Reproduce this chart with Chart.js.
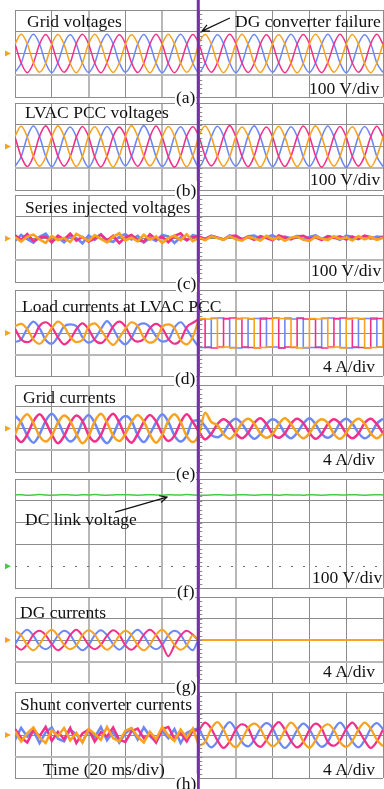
<!DOCTYPE html>
<html>
<head>
<meta charset="utf-8">
<title>DG converter failure waveforms</title>
<script src="https://cdn.jsdelivr.net/npm/chart.js@4.4.1/dist/chart.umd.min.js"></script>
<style>
    html, body { margin: 0; padding: 0; background: #fff; }
    #scope { position: relative; width: 384px; height: 789px; overflow: hidden; background: #fff; }
    #scope canvas { position: absolute; left: 0; }
    .label { position: absolute; font-family: "Liberation Serif", "Times New Roman", serif; font-size: 17.5px; line-height: 18px; color: #111; white-space: nowrap; }
    .label.tag { background: #fff; padding: 0 1px; margin-left: -1px; }
</style>
</head>
<body>
<div id="scope"></div>
<script>
/* ================= DATA (6 samples per 20 ms division) ================= */

/* (a) grid voltages, V */
const gridVoltOrange = [
    43, 88, 45, -42, -86, -45,
    44, 87, 42, -46, -88, -43,
    45, 89, 44, -43, -87, -44,
    42, 86, 45, -45, -89, -42,
    44, 88, 43, -44, -86, -46,
    46, 87, 44, -43, -88, -44,
    43, 89, 42, -45, -87, -43,
    45, 86, 44, -44, -89, -45,
    44, 88, 46, -42, -86, -44,
    43, 87, 43, -46, -88, -43,
    44];
const gridVoltBlue = [
    -86, -45, 43, 88, 44, -43,
    -88, -42, 45, 86, 43, -45,
    -87, -44, 44, 89, 45, -42,
    -86, -46, 43, 87, 42, -44,
    -89, -43, 45, 88, 44, -45,
    -87, -44, 42, 86, 46, -43,
    -88, -45, 44, 87, 43, -44,
    -86, -42, 46, 89, 44, -46,
    -87, -44, 43, 88, 42, -43,
    -89, -43, 44, 86, 45, -44,
    -87];
const gridVoltPink = [
    45, -43, -88, -44, 43, 87,
    42, -45, -86, -43, 46, 88,
    44, -44, -89, -42, 43, 86,
    45, -43, -87, -45, 44, 89,
    43, -46, -88, -44, 42, 87,
    44, -42, -86, -43, 45, 88,
    46, -44, -87, -45, 43, 86,
    42, -43, -89, -44, 44, 87,
    45, -45, -88, -42, 43, 89,
    44, -44, -86, -43, 45, 88,
    43];

/* (b) LVAC PCC voltages, V */
const pccVoltOrange = [
    47, 93, 44, -46, -90, -48,
    44, 95, 47, -43, -92, -45,
    48, 91, 43, -47, -94, -44,
    45, 96, 46, -44, -89, -47,
    43, 92, 48, -46, -93, -43,
    49, 94, 45, -45, -91, -46,
    44, 90, 47, -48, -95, -44,
    46, 93, 44, -43, -92, -47,
    45, 95, 46, -46, -90, -45,
    47, 91, 43, -44, -94, -46,
    45];
const pccVoltBlue = [
    -91, -47, 44, 94, 46, -45,
    -93, -44, 48, 90, 44, -47,
    -95, -46, 45, 92, 47, -43,
    -89, -45, 43, 96, 45, -46,
    -92, -48, 46, 91, 43, -44,
    -94, -43, 44, 93, 48, -47,
    -90, -46, 47, 95, 44, -45,
    -93, -44, 45, 91, 46, -48,
    -91, -47, 43, 94, 45, -44,
    -96, -45, 46, 92, 47, -46,
    -92];
const pccVoltPink = [
    44, -46, -92, -45, 47, 95,
    46, -44, -90, -47, 43, 92,
    45, -48, -94, -44, 46, 89,
    47, -45, -91, -46, 44, 94,
    43, -47, -95, -43, 48, 91,
    45, -44, -89, -46, 45, 96,
    46, -45, -93, -44, 47, 90,
    44, -47, -92, -45, 43, 94,
    48, -43, -95, -47, 46, 92,
    44, -46, -90, -44, 45, 93,
    46];

/* (c) series injected voltages, V */
const seriesVoltOrange = [
    6, -14, 9, 18, -4, -20,
    12, -7, 3, -16, 21, 5,
    -11, 15, -2, -18, 8, 24,
    -9, 4, -13, 17, -6, 10,
    -21, 2, 14, -8, 19, -12,
    4, -8, 10, 2, -6, 11,
    -3, -10, 7, 1, -9, 12,
    -4, 6, -11, 3, 9, -5,
    -12, 8, 0, -7, 10, -2,
    5, -9, 11, -4, 7, -6,
    3];
const seriesVoltBlue = [
    -10, 16, -3, -19, 8, 22,
    -13, 5, -17, 11, 2, -22,
    14, -6, 19, -9, -15, 7,
    20, -4, 12, -18, 3, -11,
    16, 9, -20, 6, -8, 15,
    8, -3, 12, 5, -5, 14,
    2, -6, 10, 13, -1, 6,
    15, -4, 9, 1, 12, -5,
    7, 14, -2, 10, 4, -6,
    13, 8, -3, 11, 0, 9,
    5];
const seriesVoltPink = [
    15, -6, 20, -12, 3, 9,
    -18, 13, -4, 22, -10, 7,
    -15, 1, 18, -9, 12, -21,
    5, 16, -7, -14, 19, -3,
    8, -17, 11, 24, -8, 6,
    9, -2, 12, 4, -5, 10,
    13, -3, 7, -6, 11, 2,
    -8, 14, 5, -4, 9, 12,
    -1, 6, -7, 11, 3, 10,
    -5, 8, -2, 13, 6, -4,
    9];

/* (d) load currents at LVAC PCC, A */
const loadCurOrange = [
    1.3, 1.7, 0.7, -1.2, -2.0, -0.8,
    0.9, 2.1, 1.2, -0.7, -1.7, -1.3,
    1.2, 1.8, 0.6, -1.1, -2.2, -0.9,
    0.8, 2.0, 1.3, -0.9, -1.8, -1.2,
    1.1, 1.6, 0.9, -1.3, -2.1, -0.7,
    2.7, 2.6, 2.8, -2.7, -2.6, -2.8,
    2.6, 2.8, 2.7, -2.8, -2.7, -2.6,
    2.8, 2.7, 2.6, -2.6, -2.8, -2.7,
    2.7, 2.6, 2.8, -2.7, -2.6, -2.8,
    2.6, 2.8, 2.7, -2.8, -2.7, -2.6,
    2.7];
const loadCurBlue = [
    -1.7, -1.2, 0.8, 2.1, 0.9, -1.3,
    -2.0, -0.7, 1.2, 1.6, 1.3, -0.8,
    -1.8, -1.1, 0.7, 2.2, 0.8, -1.2,
    -2.1, -0.9, 1.3, 1.8, 1.1, -0.6,
    -1.6, -1.3, 1.0, 2.0, 0.7, -1.1,
    -2.7, -2.6, 2.7, 2.8, 2.6, -2.7,
    -2.8, -2.7, 2.6, 2.7, 2.8, -2.6,
    -2.6, -2.8, 2.8, 2.6, 2.7, -2.8,
    -2.7, -2.6, 2.7, 2.8, 2.6, -2.7,
    -2.8, -2.7, 2.6, 2.7, 2.8, -2.6,
    -2.7];
const loadCurPink = [
    0.8, -1.2, -1.7, -0.9, 1.3, 2.0,
    1.1, -0.8, -2.1, -1.2, 0.7, 1.8,
    0.7, -1.3, -1.9, -0.8, 1.2, 2.1,
    1.2, -0.9, -1.6, -1.1, 0.9, 1.7,
    0.9, -1.1, -2.0, -1.3, 1.1, 1.9,
    2.6, -2.7, -2.8, -2.6, 2.7, 2.8,
    2.7, -2.6, -2.7, -2.8, 2.6, 2.7,
    2.8, -2.8, -2.6, -2.7, 2.8, 2.6,
    2.6, -2.7, -2.8, -2.6, 2.7, 2.8,
    2.7, -2.6, -2.7, -2.8, 2.6, 2.7,
    2.8];

/* (e) grid currents, A */
const gridCurOrange = [
    -1.1, 1.4, 2.6, 1.0, -1.4, -2.4,
    -1.3, 1.1, 2.4, 1.4, -1.0, -2.7,
    -1.4, 1.3, 2.7, 1.1, -1.3, -2.3,
    -1.0, 1.2, 2.5, 1.3, -1.1, -2.6,
    -1.2, 1.4, 2.6, 1.2, -1.4, -2.5,
    -1.1, 2.9, 1.2, 0.6, -1.0, -1.9,
    -0.8, 1.0, 1.8, 0.9, -0.9, -1.7,
    -1.0, 0.8, 1.9, 0.8, -0.8, -1.8,
    -0.9, 0.9, 1.7, 1.0, -1.0, -1.9,
    -0.8, 1.0, 1.8, 0.9, -0.9, -1.8,
    -0.9];
const gridCurBlue = [
    2.4, 1.1, -1.3, -2.6, -1.1, 1.4,
    2.7, 1.3, -1.1, -2.4, -1.4, 1.2,
    2.5, 1.0, -1.4, -2.7, -1.2, 1.3,
    2.3, 1.4, -1.2, -2.5, -1.0, 1.1,
    2.6, 1.2, -1.3, -2.4, -1.3, 1.4,
    1.5, 0.4, -1.2, -1.6, -0.8, 1.0,
    1.8, 0.9, -0.8, -1.9, -1.0, 0.8,
    1.7, 1.0, -0.9, -1.8, -0.8, 0.9,
    1.9, 0.8, -1.0, -1.7, -0.9, 1.0,
    1.8, 0.9, -0.8, -1.8, -1.0, 0.9,
    1.8];
const gridCurPink = [
    -1.3, -2.5, -1.1, 1.3, 2.6, 1.2,
    -1.1, -2.7, -1.4, 1.0, 2.4, 1.4,
    -1.2, -2.4, -1.2, 1.4, 2.7, 1.1,
    -1.4, -2.6, -1.0, 1.2, 2.5, 1.3,
    -1.0, -2.3, -1.3, 1.1, 2.6, 1.2,
    -0.6, -2.0, -1.0, 0.8, 1.7, 0.9,
    -0.9, -1.8, -0.8, 1.0, 1.9, 0.8,
    -1.0, -1.7, -0.9, 0.9, 1.8, 1.0,
    -0.8, -1.9, -1.0, 0.8, 1.7, 0.9,
    -0.9, -1.8, -0.9, 1.0, 1.8, 0.8,
    -0.9];

/* (f) DC link voltage, V */
const dcLinkVolt = [
    327, 328, 326, 327, 329, 327,
    326, 327, 328, 327, 326, 328,
    327, 329, 327, 326, 327, 328,
    328, 327, 326, 327, 328, 327,
    326, 328, 327, 327, 329, 327,
    325, 326, 327, 328, 327, 326,
    327, 328, 327, 326, 327, 328,
    327, 326, 328, 327, 327, 326,
    328, 327, 326, 327, 328, 327,
    327, 328, 327, 326, 327, 328,
    327];

/* (g) DG currents, A */
const dgCurOrange = [
    1.7, 0.9, -1.0, -1.9, -0.8, 1.0,
    1.9, 0.8, -0.9, -1.7, -1.0, 0.9,
    1.8, 1.0, -0.8, -1.8, -0.9, 0.8,
    1.7, 0.9, -1.0, -1.9, -0.9, 1.0,
    1.9, 0.8, -0.9, -1.8, -1.0, 0.9,
    0, 0, 0, 0, 0, 0,
    0, 0, 0, 0, 0, 0,
    0, 0, 0, 0, 0, 0,
    0, 0, 0, 0, 0, 0,
    0, 0, 0, 0, 0, 0,
    0];
const dgCurBlue = [
    -0.8, 1.0, 1.9, 0.8, -1.0, -1.7,
    -0.9, 0.8, 1.7, 1.0, -0.9, -1.9,
    -1.0, 0.9, 1.8, 0.9, -0.8, -1.8,
    -0.8, 1.0, 1.9, 0.8, -1.0, -1.7,
    -0.9, 0.9, 1.7, 1.0, -0.9, -1.9,
    0, 0, 0, 0, 0, 0,
    0, 0, 0, 0, 0, 0,
    0, 0, 0, 0, 0, 0,
    0, 0, 0, 0, 0, 0,
    0, 0, 0, 0, 0, 0,
    0];
const dgCurPink = [
    -1.0, -1.8, -0.8, 1.0, 1.7, 0.9,
    -0.8, -1.9, -1.0, 0.9, 1.9, 0.8,
    -0.9, -1.7, -0.9, 0.8, 1.8, 1.0,
    -1.0, -1.8, -0.8, 1.0, 1.9, 0.9,
    -0.9, -3.0, -1.0, 0.8, 1.7, 1.0,
    0, 0, 0, 0, 0, 0,
    0, 0, 0, 0, 0, 0,
    0, 0, 0, 0, 0, 0,
    0, 0, 0, 0, 0, 0,
    0, 0, 0, 0, 0, 0,
    0];

/* (h) shunt converter currents, A */
const shuntCurOrange = [
    0.7, -1.2, 0.3, 1.4, -0.5, -1.5,
    0.9, -0.2, 1.3, -1.0, 0.4, -1.4,
    1.1, 0.2, -0.9, 1.5, -0.6, -1.2,
    0.8, 1.3, -0.3, -1.4, 0.6, -0.8,
    1.5, -0.1, -1.1, 1.0, -0.5, 1.2,
    -2.0, -1.3, 1.2, 2.4, 1.0, -1.3,
    -2.3, -0.9, 1.3, 2.1, 1.2, -1.0,
    -2.1, -1.2, 0.9, 2.3, 1.1, -1.2,
    -2.4, -1.0, 1.2, 2.0, 0.9, -1.3,
    -2.2, -1.1, 1.0, 2.3, 1.2, -0.9,
    -2.1];
const shuntCurBlue = [
    -0.9, 1.3, -0.3, 0.8, -1.5, 0.5,
    1.4, -0.7, -1.2, 1.0, 0.1, -1.3,
    0.9, -0.4, 1.5, -1.0, 0.6, -1.4,
    0.3, 1.2, -0.8, 1.4, -0.2, -1.3,
    0.7, -0.6, 1.1, -1.5, 0.4, 1.0,
    1.2, -1.0, -2.3, -1.2, 1.1, 2.4,
    1.0, -1.3, -2.1, -0.9, 1.2, 2.2,
    1.3, -1.1, -2.4, -1.2, 0.9, 2.1,
    1.1, -1.0, -2.2, -1.3, 1.0, 2.3,
    0.9, -1.2, -2.3, -1.0, 1.2, 2.2,
    1.1];
const shuntCurPink = [
    1.1, -0.5, -1.4, 0.9, -0.2, 1.5,
    -1.1, 0.6, -0.8, 1.3, -1.5, 0.3,
    1.0, -1.2, 0.5, -0.3, 1.4, -0.9,
    -1.3, 0.7, 1.2, -0.6, 0.2, -1.4,
    1.1, 1.5, -0.7, 0.4, -1.2, 0.8,
    0.9, 2.3, 1.2, -1.0, -2.4, -1.2,
    1.0, 2.0, 1.3, -1.2, -2.2, -0.9,
    1.2, 2.4, 1.0, -1.1, -2.3, -1.3,
    0.9, 2.1, 1.2, -1.3, -2.0, -1.0,
    1.1, 2.3, 0.9, -1.0, -2.4, -1.2,
    1.0];

const samplesPerDiv = 6;     // 20 ms per division, 6 samples each
const failureDiv = 4.98;     // DG converter failure instant, in divisions

/* ================= STYLE / LAYOUT ================= */
const colors = {
    orange: "#f8a21f",
    pink: "#f2308a",
    blue: "#6c88f6",
    green: "#45cc45"
};

const panels = [
    { top: 10, bottom: 97, divs: 4, below: 2, perDiv: 100, width: 1.5, marker: "orange",
      traces: [[gridVoltOrange, "orange"], [gridVoltPink, "pink"], [gridVoltBlue, "blue"]],
      arrow: { from: [5.84, 163], to: [5.08, 103] } },
    { top: 103, bottom: 190, divs: 4, below: 2, perDiv: 100, width: 1.6, marker: "orange",
      traces: [[pccVoltOrange, "orange"], [pccVoltPink, "pink"], [pccVoltBlue, "blue"]] },
    { top: 195, bottom: 282, divs: 4, below: 2, perDiv: 100, width: 2.6, rough: true, marker: "orange",
      traces: [[seriesVoltOrange, "orange"], [seriesVoltPink, "pink"], [seriesVoltBlue, "blue"]] },
    { top: 290, bottom: 376, divs: 4, below: 2, perDiv: 4, width: 2.2, split: 30, postStepped: true, marker: "orange",
      traces: [[loadCurOrange, "orange"], [loadCurPink, "pink"], [loadCurBlue, "blue"]] },
    { top: 385, bottom: 472, divs: 4, below: 2, perDiv: 4, width: 2.5, marker: "orange",
      traces: [[gridCurOrange, "orange"], [gridCurPink, "pink"], [gridCurBlue, "blue"]] },
    { top: 479, bottom: 588, divs: 5, below: 1, perDiv: 100, width: 1.5, marker: "green", dottedZero: true,
      traces: [[dcLinkVolt, "green"]],
      arrow: { from: [2.72, 248], to: [4.13, 317] } },
    { top: 597, bottom: 683, divs: 4, below: 2, perDiv: 4, width: 2.0, marker: "orange",
      traces: [[dgCurOrange, "orange"], [dgCurPink, "pink"], [dgCurBlue, "blue"]] },
    { top: 692, bottom: 778, divs: 4, below: 2, perDiv: 4, width: 2.5, split: 30, preRough: true, marker: "orange",
      traces: [[shuntCurOrange, "orange"], [shuntCurPink, "pink"], [shuntCurBlue, "blue"]] }
];

const labels = [
    { text: "Grid voltages", x: 27, y: 27 },
    { text: "DG converter failure", x: 235, y: 27 },
    { text: "100 V/div", x: 309, y: 94 },
    { text: "(a)", x: 176, y: 103, tag: true },
    { text: "LVAC PCC voltages", x: 25, y: 118 },
    { text: "100 V/div", x: 310, y: 185 },
    { text: "(b)", x: 176, y: 196, tag: true },
    { text: "Series injected voltages", x: 25, y: 213 },
    { text: "100 V/div", x: 311, y: 276 },
    { text: "(c)", x: 177, y: 289, tag: true },
    { text: "Load currents at LVAC PCC", x: 22, y: 312 },
    { text: "4 A/div", x: 323, y: 372 },
    { text: "(d)", x: 175, y: 384, tag: true },
    { text: "Grid currents", x: 23, y: 403 },
    { text: "4 A/div", x: 323, y: 465 },
    { text: "(e)", x: 176, y: 479, tag: true },
    { text: "DC link voltage", x: 25, y: 525 },
    { text: "100 V/div", x: 312, y: 583 },
    { text: "(f)", x: 177, y: 597, tag: true },
    { text: "DG currents", x: 20, y: 618 },
    { text: "4 A/div", x: 323, y: 677 },
    { text: "(g)", x: 176, y: 692, tag: true },
    { text: "Shunt converter currents", x: 20, y: 710 },
    { text: "Time (20 ms/div)", x: 43, y: 775 },
    { text: "4 A/div", x: 323, y: 775 },
    { text: "(h)", x: 176, y: 789, tag: true }
];

/* ================= HELPERS ================= */
function toPoints(values, from, to) {
    const pts = [];
    for (let i = from; i <= to && i < values.length; i++) {
        pts.push({ x: i / samplesPerDiv, y: values[i] });
    }
    return pts;
}

function lineStyle(color, width, mode) {
    const s = { borderColor: colors[color], borderWidth: width, pointRadius: 0, fill: false };
    if (mode === "rough") { s.tension = 0; }
    else if (mode === "stepped") { s.stepped = true; }
    else { s.cubicInterpolationMode = "monotone"; }
    return s;
}

function buildDatasets(p) {
    const sets = [];
    p.traces.forEach(([values, color]) => {
        const last = values.length - 1;
        if (p.split) {
            sets.push({ data: toPoints(values, 0, p.split), ...lineStyle(color, p.width, p.preRough ? "rough" : "smooth") });
            sets.push({ data: toPoints(values, p.split, last), ...lineStyle(color, p.postStepped ? 1.6 : 2.2, p.postStepped ? "stepped" : "smooth") });
        } else {
            sets.push({ data: toPoints(values, 0, last), ...lineStyle(color, p.width, p.rough ? "rough" : "smooth") });
        }
    });
    return sets;
}

/* ---- oscilloscope marks: failure line, ground marker, arrows ---- */
const scopeMarks = {
    id: "scopeMarks",
    afterDatasetsDraw(chart, args, opts) {
        const { ctx, chartArea } = chart;
        const xs = chart.scales.x, ys = chart.scales.y;
        ctx.save();

        if (opts.dottedZero) {
            const zy = Math.round(ys.getPixelForValue(0)) + 0.5;
            ctx.strokeStyle = "#6f6f6f";
            ctx.lineWidth = 1;
            ctx.setLineDash([2, 10]);
            ctx.beginPath();
            ctx.moveTo(chartArea.left, zy);
            ctx.lineTo(chartArea.right, zy);
            ctx.stroke();
            ctx.setLineDash([]);
        }

        // ground level marker left of the screen
        const gy = ys.getPixelForValue(0);
        ctx.fillStyle = colors[opts.marker];
        ctx.beginPath();
        ctx.moveTo(chartArea.left - 10, gy - 3);
        ctx.lineTo(chartArea.left - 4, gy);
        ctx.lineTo(chartArea.left - 10, gy + 3);
        ctx.closePath();
        ctx.fill();

        if (opts.arrow) {
            const x0 = xs.getPixelForValue(opts.arrow.from[0]), y0 = ys.getPixelForValue(opts.arrow.from[1]);
            const x1 = xs.getPixelForValue(opts.arrow.to[0]), y1 = ys.getPixelForValue(opts.arrow.to[1]);
            const ang = Math.atan2(y1 - y0, x1 - x0);
            ctx.strokeStyle = "#111";
            ctx.lineWidth = 1.2;
            ctx.beginPath();
            ctx.moveTo(x0, y0);
            ctx.lineTo(x1, y1);
            ctx.moveTo(x1 - 8 * Math.cos(ang - 0.45), y1 - 8 * Math.sin(ang - 0.45));
            ctx.lineTo(x1, y1);
            ctx.lineTo(x1 - 8 * Math.cos(ang + 0.45), y1 - 8 * Math.sin(ang + 0.45));
            ctx.stroke();
        }

        // failure instant, runs through the whole strip
        const fx = xs.getPixelForValue(failureDiv);
        ctx.fillStyle = "#7431a6";
        ctx.fillRect(fx - 1.5, 0, 3, chart.height);

        // minor ticks on the centre graticule line
        const step = ys.options.ticks.stepSize / 5;
        ctx.strokeStyle = "#8a8a8a";
        ctx.lineWidth = 1;
        ctx.beginPath();
        for (let v = ys.min; v <= ys.max + 1e-6; v += step) {
            const ty = Math.round(ys.getPixelForValue(v)) + 0.5;
            ctx.moveTo(fx + 1.5, ty);
            ctx.lineTo(fx + 4, ty);
        }
        ctx.stroke();
        ctx.restore();
    }
};

/* ================= BUILD THE STRIP ================= */
const scope = document.getElementById("scope");
const lightCols = [2, 4, 6];

panels.forEach((p, i) => {
    const cTop = i === 0 ? 0 : p.top - 3;
    const cBottom = i === panels.length - 1 ? 789 : panels[i + 1].top - 3;

    const canvas = document.createElement("canvas");
    canvas.width = 384;
    canvas.height = cBottom - cTop;
    canvas.style.top = cTop + "px";
    scope.appendChild(canvas);

    const lightRow = -p.perDiv;

    new Chart(canvas.getContext("2d"), {
        type: "line",
        data: { datasets: buildDatasets(p) },
        options: {
            responsive: false,
            animation: false,
            events: [],
            layout: { padding: { top: p.top - cTop, bottom: cBottom - p.bottom, left: 15, right: 1 } },
            plugins: {
                legend: { display: false },
                tooltip: { enabled: false },
                scopeMarks: { marker: p.marker, arrow: p.arrow, dottedZero: p.dottedZero }
            },
            scales: {
                x: {
                    type: "linear",
                    min: 0,
                    max: 10,
                    afterFit: s => { s.height = 0; },
                    ticks: { display: false, stepSize: 1 },
                    border: { display: false },
                    grid: {
                        drawTicks: false,
                        color: c => lightCols.includes(c.tick && c.tick.value) ? "#b8b8b8" : "#8c8c8c",
                        lineWidth: c => lightCols.includes(c.tick && c.tick.value) ? 2 : 1
                    }
                },
                y: {
                    type: "linear",
                    min: -p.below * p.perDiv,
                    max: (p.divs - p.below) * p.perDiv,
                    afterFit: s => { s.width = 0; },
                    ticks: { display: false, stepSize: p.perDiv },
                    border: { display: false },
                    grid: {
                        drawTicks: false,
                        color: c => {
                            const v = c.tick && c.tick.value;
                            if (p.dottedZero && v === 0) return "rgba(0,0,0,0)";
                            return (!p.dottedZero && v === lightRow) ? "#b8b8b8" : "#8c8c8c";
                        },
                        lineWidth: c => (!p.dottedZero && c.tick && c.tick.value === lightRow) ? 2 : 1
                    }
                }
            }
        },
        plugins: [scopeMarks]
    });
});

/* ---- text ---- */
labels.forEach(l => {
    const div = document.createElement("div");
    div.className = "label" + (l.tag ? " tag" : "");
    div.textContent = l.text;
    div.style.left = l.x + "px";
    div.style.top = (l.y - 15) + "px";
    scope.appendChild(div);
});
</script>
</body>
</html>
